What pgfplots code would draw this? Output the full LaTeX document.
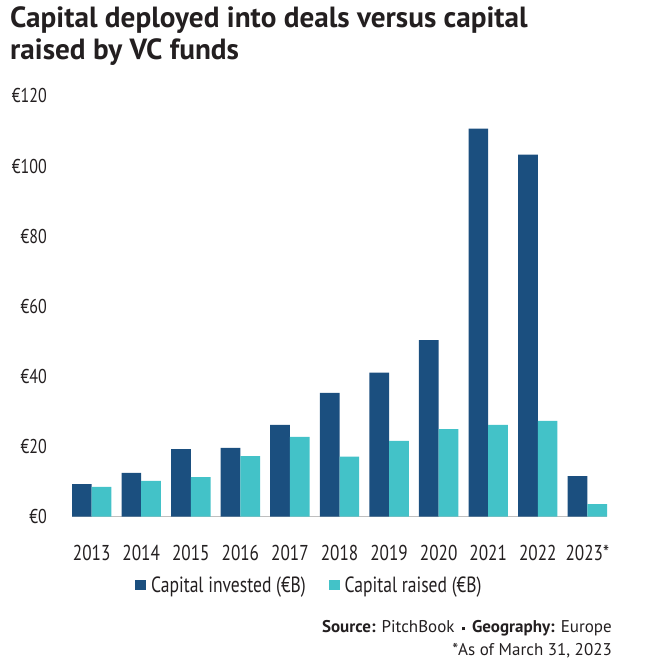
\documentclass[border=0pt]{standalone}
\usepackage{fontspec}
\setmainfont{PT Sans}
\newfontfamily\condfont{PT Sans}[FakeStretch=0.8]
\newfontfamily\titlefont{PT Sans}
\newfontfamily\footfont{PT Sans}
\usepackage{pgfplots}
\usepackage{pgfplotstable}
\pgfplotsset{compat=1.18}
\definecolor{inv}{HTML}{1B4F7F}
\definecolor{rai}{HTML}{43C2C8}
\definecolor{txt}{HTML}{231F20}
\pgfplotstableread{
x inv rai
0 9.3 8.5
1 12.5 10.2
2 19.3 11.3
3 19.6 17.3
4 26.2 22.8
5 35.3 17.1
6 41.1 21.6
7 50.4 25.0
8 110.7 26.2
9 103.3 27.3
10 11.6 3.6
}\data
\begin{document}
\begin{tikzpicture}[x=1pt,y=1pt]
\path[use as bounding box] (0,0) rectangle (647,663);
\node[anchor=base west, inner sep=0pt, text=txt, font=\titlefont\bfseries\fontsize{29.2}{32}\selectfont] at (10,635) {Capital deployed into deals versus capital};
\node[anchor=base west, inner sep=0pt, text=txt, font=\titlefont\bfseries\fontsize{29.2}{32}\selectfont] at (10,603) {raised by VC funds};
\begin{axis}[
  at={(72pt,146.3pt)}, anchor=south west,
  scale only axis, width=535pt, height=420.7pt,
  xmin=-0.397, xmax=10.397, ymin=0, ymax=120,
  ybar=0pt, bar width=19.7pt,
  axis x line*=bottom, axis y line*=left,
  x axis line style={draw=black!25, line width=1.2pt, -},
  y axis line style={draw=none},
  tick style={draw=none},
  xtick={0,...,10},
  xticklabels={2013,2014,2015,2016,2017,2018,2019,2020,2021,2022,2023*},
  ytick={0,20,...,120},
  yticklabels={€0,€20,€40,€60,€80,€100,€120},
  yticklabel style={anchor=east, inner sep=0pt, xshift=-25pt, text=txt, font=\condfont\fontsize{20}{24}\selectfont},
  xticklabel style={anchor=north, inner sep=0pt, yshift=-24pt, text=txt, font=\condfont\fontsize{21.5}{24}\selectfont},
  legend columns=2,
  legend style={at={(0.442,-0.1624)}, anchor=center, draw=none, fill=none, inner sep=0pt,
    font=\condfont\fontsize{22}{24}\selectfont, text=txt,
    nodes={inner sep=0pt, text=txt},
    /tikz/every odd column/.append style={column sep=5pt},
    /tikz/every even column/.append style={column sep=23pt}},
  legend image code/.code={\fill[#1] (0pt,-5.35pt) rectangle (10.7pt,5.35pt);},
]
\addplot[draw=none, fill=inv] table[x=x, y=inv] {\data};
\addplot[draw=none, fill=rai] table[x=x, y=rai] {\data};
\legend{Capital invested (€B), Capital raised (€B)}
\end{axis}
\node[anchor=base east, inner sep=0pt, text=txt, font=\footfont\fontsize{17}{19}\selectfont] at (612,30) {\textbf{Source:} PitchBook\hspace{7pt}\raisebox{2.5pt}{\rule{3.5pt}{3.5pt}}\hspace{7pt}\textbf{Geography:} Europe};
\node[anchor=base east, inner sep=0pt, text=txt, font=\footfont\fontsize{17}{19}\selectfont] at (612,8) {*As of March 31, 2023};
\end{tikzpicture}
\end{document}
